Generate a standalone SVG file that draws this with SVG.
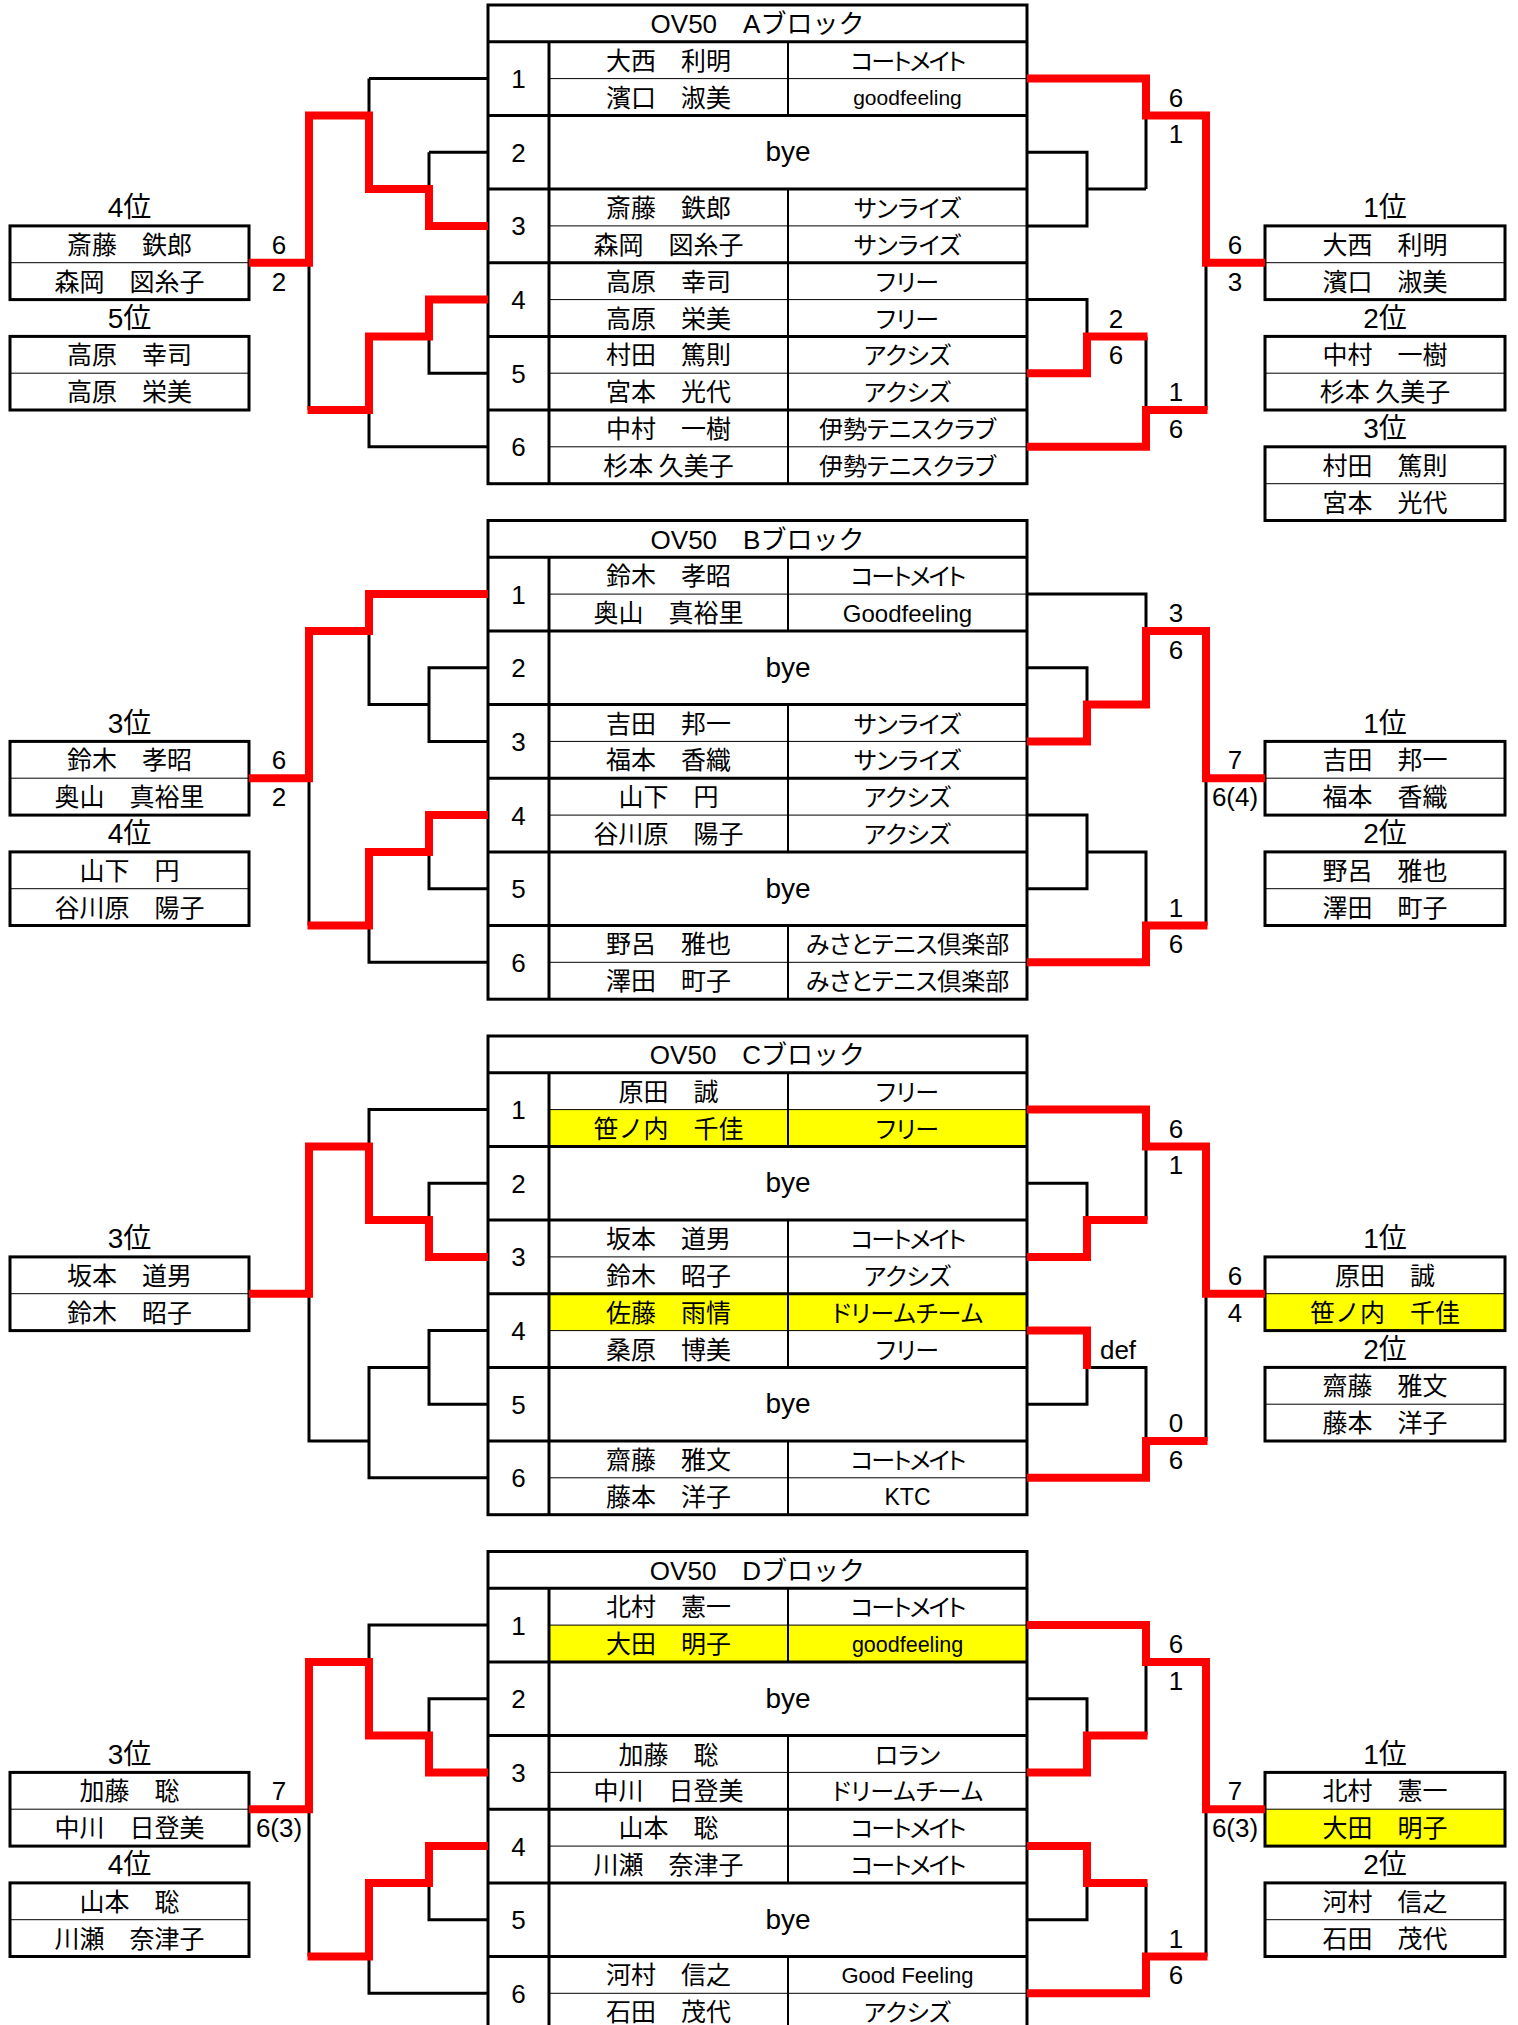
<svg xmlns="http://www.w3.org/2000/svg" width="1518" height="2025" viewBox="0 0 1518 2025">
<style>
.tb{fill:none;stroke:#000;stroke-width:3}
.md{fill:none;stroke:#000;stroke-width:2}
.th{fill:none;stroke:#000;stroke-width:1}
.bk{fill:none;stroke:#000;stroke-width:3}
.rd{fill:none;stroke:#f00;stroke-width:8;stroke-linejoin:miter}
.hl{fill:#ff0;stroke:none}
text{font-family:"Liberation Sans","Noto Sans CJK JP",sans-serif;text-anchor:middle;fill:#000}
.nm{font-family:"Noto Sans CJK JP",sans-serif;font-size:25px}
.cl{font-family:"Noto Sans CJK JP",sans-serif;font-size:24px;font-feature-settings:"palt"}
.ct{letter-spacing:-2px}
.nu{font-size:26px}
.by{font-size:28px}
.tt{font-size:26px}
.rk{font-size:28px}
</style>
<rect x="0" y="0" width="1518" height="2025" fill="#fff"/>

<!-- ===================== BLOCK A ===================== -->
<g id="block-A" transform="translate(0,5)">
<g id="A-table">
<rect class="tb" x="488" y="0" width="539" height="478.7"/>
<path class="th" d="M549,73.6H1027M549,220.9H1027M549,294.6H1027M549,368.2H1027M549,441.8H1027"/>
<path class="md" d="M788,36.8V110.5M788,184.1V478.7"/>
<path class="tb" d="M488,36.8H1027M549,36.8V478.7M488,110.5H1027M488,184.1H1027M488,257.7H1027M488,331.4H1027M488,405H1027"/>
<text class="tt" x="757.5" y="28">OV50　Aブロック</text>
<text class="nu" x="518.5" y="83.1">1</text>
<text class="nu" x="518.5" y="156.8">2</text>
<text class="nu" x="518.5" y="230.4">3</text>
<text class="nu" x="518.5" y="304.1">4</text>
<text class="nu" x="518.5" y="377.7">5</text>
<text class="nu" x="518.5" y="451.3">6</text>
<text class="nm" x="668.5" y="64.7">大西　利明</text>
<text class="cl ct" x="907.5" y="64.7">コートメイト</text>
<text class="nm" x="668.5" y="101.6">濱口　淑美</text>
<text x="907.5" y="100" font-size="21">goodfeeling</text>
<text class="by" x="788" y="156">bye</text>
<text class="nm" x="668.5" y="212">斎藤　鉄郎</text>
<text class="cl" x="907.5" y="212">サンライズ</text>
<text class="nm" x="668.5" y="248.8">森岡　図糸子</text>
<text class="cl" x="907.5" y="248.8">サンライズ</text>
<text class="nm" x="668.5" y="285.7">高原　幸司</text>
<text class="cl" x="907.5" y="285.7">フリー</text>
<text class="nm" x="668.5" y="322.5">高原　栄美</text>
<text class="cl" x="907.5" y="322.5">フリー</text>
<text class="nm" x="668.5" y="359.3">村田　篤則</text>
<text class="cl" x="907.5" y="359.3">アクシズ</text>
<text class="nm" x="668.5" y="396.1">宮本　光代</text>
<text class="cl" x="907.5" y="396.1">アクシズ</text>
<text class="nm" x="668.5" y="432.9">中村　一樹</text>
<text class="cl" x="907.5" y="432.9">伊勢テニスクラブ</text>
<text class="nm" x="668.5" y="469.8">杉本 久美子</text>
<text class="cl" x="907.5" y="469.8">伊勢テニスクラブ</text>
</g>
<g id="A-rank4">
<text class="rk" x="129.5" y="212">4位</text>
<rect class="tb" x="10" y="220.9" width="239" height="73.7"/>
<path class="th" d="M10,257.7H249"/>
<text class="nm" x="129.5" y="248.8">斎藤　鉄郎</text>
<text class="nm" x="129.5" y="285.7">森岡　図糸子</text>
</g>
<g id="A-rank5">
<text class="rk" x="129.5" y="322.5">5位</text>
<rect class="tb" x="10" y="331.4" width="239" height="73.6"/>
<path class="th" d="M10,368.2H249"/>
<text class="nm" x="129.5" y="359.3">高原　幸司</text>
<text class="nm" x="129.5" y="396.1">高原　栄美</text>
</g>
<g id="A-rank1">
<text class="rk" x="1385" y="212">1位</text>
<rect class="tb" x="1265" y="220.9" width="240" height="73.7"/>
<path class="th" d="M1265,257.7H1505"/>
<text class="nm" x="1385" y="248.8">大西　利明</text>
<text class="nm" x="1385" y="285.7">濱口　淑美</text>
</g>
<g id="A-rank2">
<text class="rk" x="1385" y="322.5">2位</text>
<rect class="tb" x="1265" y="331.4" width="240" height="73.6"/>
<path class="th" d="M1265,368.2H1505"/>
<text class="nm" x="1385" y="359.3">中村　一樹</text>
<text class="nm" x="1385" y="396.1">杉本 久美子</text>
</g>
<g id="A-rank3">
<text class="rk" x="1385" y="432.9">3位</text>
<rect class="tb" x="1265" y="441.8" width="240" height="73.7"/>
<path class="th" d="M1265,478.7H1505"/>
<text class="nm" x="1385" y="469.8">村田　篤則</text>
<text class="nm" x="1385" y="506.6">宮本　光代</text>
</g>
<g id="A-connectors">
<path class="bk" d="M369,73.6H488M369,73.6V110.5M429,147.3H488M429,147.3V184.1M309,257.7V405M429,331.4V368.2H488M369,405V441.8H488"/>
<path class="bk" d="M1027,147.3H1087V220.9H1027M1087,184.1H1146M1146,110.5V184.1M1027,294.6H1087V331.4M1146,331.4V405M1206,257.7V405"/>
<path class="rd" d="M488,220.9H429V184.1H369V110.5H309V257.7H249"/>
<path class="rd" d="M488,294.6H429V331.4H369V405H307.5"/>
<path class="rd" d="M1027,73.6H1146V110.5H1206V257.7H1265"/>
<path class="rd" d="M1027,368.2H1087V331.4H1147.5"/>
<path class="rd" d="M1027,441.8H1146V405H1207.5"/>
<text class="nu" x="279" y="248.8">6</text>
<text class="nu" x="279" y="285.7">2</text>
<text class="nu" x="1176" y="101.6">6</text>
<text class="nu" x="1176" y="138.4">1</text>
<text class="nu" x="1235" y="248.8">6</text>
<text class="nu" x="1235" y="285.7">3</text>
<text class="nu" x="1116" y="322.5">2</text>
<text class="nu" x="1116" y="359.3">6</text>
<text class="nu" x="1176" y="396.1">1</text>
<text class="nu" x="1176" y="432.9">6</text>
</g>
</g>

<!-- ===================== BLOCK B ===================== -->
<g id="block-B" transform="translate(0,520.5)">
<g id="B-table">
<rect class="tb" x="488" y="0" width="539" height="478.7"/>
<path class="th" d="M549,73.6H1027M549,220.9H1027M549,294.6H1027M549,441.8H1027"/>
<path class="md" d="M788,36.8V110.5M788,184.1V331.4M788,405V478.7"/>
<path class="tb" d="M488,36.8H1027M549,36.8V478.7M488,110.5H1027M488,184.1H1027M488,257.7H1027M488,331.4H1027M488,405H1027"/>
<text class="tt" x="757.5" y="28">OV50　Bブロック</text>
<text class="nu" x="518.5" y="83.1">1</text>
<text class="nu" x="518.5" y="156.8">2</text>
<text class="nu" x="518.5" y="230.4">3</text>
<text class="nu" x="518.5" y="304.1">4</text>
<text class="nu" x="518.5" y="377.7">5</text>
<text class="nu" x="518.5" y="451.3">6</text>
<text class="nm" x="668.5" y="64.7">鈴木　孝昭</text>
<text class="cl ct" x="907.5" y="64.7">コートメイト</text>
<text class="nm" x="668.5" y="101.6">奥山　真裕里</text>
<text x="907.5" y="101" font-size="24">Goodfeeling</text>
<text class="by" x="788" y="156">bye</text>
<text class="nm" x="668.5" y="212">吉田　邦一</text>
<text class="cl" x="907.5" y="212">サンライズ</text>
<text class="nm" x="668.5" y="248.8">福本　香織</text>
<text class="cl" x="907.5" y="248.8">サンライズ</text>
<text class="nm" x="668.5" y="285.7">山下　円</text>
<text class="cl" x="907.5" y="285.7">アクシズ</text>
<text class="nm" x="668.5" y="322.5">谷川原　陽子</text>
<text class="cl" x="907.5" y="322.5">アクシズ</text>
<text class="by" x="788" y="377">bye</text>
<text class="nm" x="668.5" y="432.9">野呂　雅也</text>
<text class="cl" x="907.5" y="432.9">みさとテニス倶楽部</text>
<text class="nm" x="668.5" y="469.8">澤田　町子</text>
<text class="cl" x="907.5" y="469.8">みさとテニス倶楽部</text>
</g>
<g id="B-rank3">
<text class="rk" x="129.5" y="212">3位</text>
<rect class="tb" x="10" y="220.9" width="239" height="73.7"/>
<path class="th" d="M10,257.7H249"/>
<text class="nm" x="129.5" y="248.8">鈴木　孝昭</text>
<text class="nm" x="129.5" y="285.7">奥山　真裕里</text>
</g>
<g id="B-rank4">
<text class="rk" x="129.5" y="322.5">4位</text>
<rect class="tb" x="10" y="331.4" width="239" height="73.6"/>
<path class="th" d="M10,368.2H249"/>
<text class="nm" x="129.5" y="359.3">山下　円</text>
<text class="nm" x="129.5" y="396.1">谷川原　陽子</text>
</g>
<g id="B-rank1">
<text class="rk" x="1385" y="212">1位</text>
<rect class="tb" x="1265" y="220.9" width="240" height="73.7"/>
<path class="th" d="M1265,257.7H1505"/>
<text class="nm" x="1385" y="248.8">吉田　邦一</text>
<text class="nm" x="1385" y="285.7">福本　香織</text>
</g>
<g id="B-rank2">
<text class="rk" x="1385" y="322.5">2位</text>
<rect class="tb" x="1265" y="331.4" width="240" height="73.6"/>
<path class="th" d="M1265,368.2H1505"/>
<text class="nm" x="1385" y="359.3">野呂　雅也</text>
<text class="nm" x="1385" y="396.1">澤田　町子</text>
</g>
<g id="B-connectors">
<path class="bk" d="M369,110.5V184.1H429M488,147.3H429V220.9H488M309,257.7V405M429,331.4V368.2H488M369,405V441.8H488"/>
<path class="bk" d="M1027,73.6H1146V110.5M1027,147.3H1087V184.1M1027,294.6H1087V368.2H1027M1087,331.4H1146V405M1206,257.7V405"/>
<path class="rd" d="M488,73.6H369V110.5H309V257.7H249"/>
<path class="rd" d="M488,294.6H429V331.4H369V405H307.5"/>
<path class="rd" d="M1027,220.9H1087V184.1H1146V110.5H1206V257.7H1265"/>
<path class="rd" d="M1027,441.8H1146V405H1207.5"/>
<text class="nu" x="279" y="248.8">6</text>
<text class="nu" x="279" y="285.7">2</text>
<text class="nu" x="1176" y="101.6">3</text>
<text class="nu" x="1176" y="138.4">6</text>
<text class="nu" x="1235" y="248.8">7</text>
<text class="nu" x="1235" y="285.7">6(4)</text>
<text class="nu" x="1176" y="396.1">1</text>
<text class="nu" x="1176" y="432.9">6</text>
</g>
</g>

<!-- ===================== BLOCK C ===================== -->
<g id="block-C" transform="translate(0,1036)">
<g id="C-table">
<rect class="hl" x="549" y="73.6" width="478" height="36.9"/>
<rect class="hl" x="549" y="257.7" width="478" height="36.9"/>
<rect class="tb" x="488" y="0" width="539" height="478.7"/>
<path class="th" d="M549,73.6H1027M549,220.9H1027M549,294.6H1027M549,441.8H1027"/>
<path class="md" d="M788,36.8V110.5M788,184.1V331.4M788,405V478.7"/>
<path class="tb" d="M488,36.8H1027M549,36.8V478.7M488,110.5H1027M488,184.1H1027M488,257.7H1027M488,331.4H1027M488,405H1027"/>
<text class="tt" x="757.5" y="28">OV50　Cブロック</text>
<text class="nu" x="518.5" y="83.1">1</text>
<text class="nu" x="518.5" y="156.8">2</text>
<text class="nu" x="518.5" y="230.4">3</text>
<text class="nu" x="518.5" y="304.1">4</text>
<text class="nu" x="518.5" y="377.7">5</text>
<text class="nu" x="518.5" y="451.3">6</text>
<text class="nm" x="668.5" y="64.7">原田　誠</text>
<text class="cl" x="907.5" y="64.7">フリー</text>
<text class="nm" x="668.5" y="101.6">笹ノ内　千佳</text>
<text class="cl" x="907.5" y="101.6">フリー</text>
<text class="by" x="788" y="156">bye</text>
<text class="nm" x="668.5" y="212">坂本　道男</text>
<text class="cl ct" x="907.5" y="212">コートメイト</text>
<text class="nm" x="668.5" y="248.8">鈴木　昭子</text>
<text class="cl" x="907.5" y="248.8">アクシズ</text>
<text class="nm" x="668.5" y="285.7">佐藤　雨情</text>
<text class="cl" x="907.5" y="285.7">ドリームチーム</text>
<text class="nm" x="668.5" y="322.5">桑原　博美</text>
<text class="cl" x="907.5" y="322.5">フリー</text>
<text class="by" x="788" y="377">bye</text>
<text class="nm" x="668.5" y="432.9">齋藤　雅文</text>
<text class="cl ct" x="907.5" y="432.9">コートメイト</text>
<text class="nm" x="668.5" y="469.8">藤本　洋子</text>
<text x="907.5" y="469" font-size="23">KTC</text>
</g>
<g id="C-rank3">
<text class="rk" x="129.5" y="212">3位</text>
<rect class="tb" x="10" y="220.9" width="239" height="73.7"/>
<path class="th" d="M10,257.7H249"/>
<text class="nm" x="129.5" y="248.8">坂本　道男</text>
<text class="nm" x="129.5" y="285.7">鈴木　昭子</text>
</g>
<g id="C-rank1">
<text class="rk" x="1385" y="212">1位</text>
<rect class="hl" x="1265" y="257.7" width="240" height="36.9"/>
<rect class="tb" x="1265" y="220.9" width="240" height="73.7"/>
<path class="th" d="M1265,257.7H1505"/>
<text class="nm" x="1385" y="248.8">原田　誠</text>
<text class="nm" x="1385" y="285.7">笹ノ内　千佳</text>
</g>
<g id="C-rank2">
<text class="rk" x="1385" y="322.5">2位</text>
<rect class="tb" x="1265" y="331.4" width="240" height="73.6"/>
<path class="th" d="M1265,368.2H1505"/>
<text class="nm" x="1385" y="359.3">齋藤　雅文</text>
<text class="nm" x="1385" y="396.1">藤本　洋子</text>
</g>
<g id="C-connectors">
<path class="bk" d="M488,73.6H369V110.5M488,147.3H429V184.1M488,294.6H429V368.2H488M429,331.4H369V441.8H488M369,405H309V257.7"/>
<path class="bk" d="M1146,110.5V184.1M1027,147.3H1087V184.1M1087,331.4H1146V405M1087,331.4V368.2H1027M1206,257.7V405"/>
<path class="rd" d="M488,220.9H429V184.1H369V110.5H309V257.7H249"/>
<path class="rd" d="M1027,73.6H1146V110.5H1206V257.7H1265"/>
<path class="rd" d="M1027,220.9H1087V184.1H1147.5"/>
<path class="rd" d="M1027,294.6H1087V333"/>
<path class="rd" d="M1027,441.8H1146V405H1207.5"/>
<text class="nu" x="1176" y="101.6">6</text>
<text class="nu" x="1176" y="138.4">1</text>
<text class="nu" x="1235" y="248.8">6</text>
<text class="nu" x="1235" y="285.7">4</text>
<text class="nu" x="1118" y="322.5">def</text>
<text class="nu" x="1176" y="396.1">0</text>
<text class="nu" x="1176" y="432.9">6</text>
</g>
</g>

<!-- ===================== BLOCK D ===================== -->
<g id="block-D" transform="translate(0,1551.5)">
<g id="D-table">
<rect class="hl" x="549" y="73.6" width="478" height="36.9"/>
<rect class="tb" x="488" y="0" width="539" height="478.7"/>
<path class="th" d="M549,73.6H1027M549,220.9H1027M549,294.6H1027M549,441.8H1027"/>
<path class="md" d="M788,36.8V110.5M788,184.1V331.4M788,405V478.7"/>
<path class="tb" d="M488,36.8H1027M549,36.8V478.7M488,110.5H1027M488,184.1H1027M488,257.7H1027M488,331.4H1027M488,405H1027"/>
<text class="tt" x="757.5" y="28">OV50　Dブロック</text>
<text class="nu" x="518.5" y="83.1">1</text>
<text class="nu" x="518.5" y="156.8">2</text>
<text class="nu" x="518.5" y="230.4">3</text>
<text class="nu" x="518.5" y="304.1">4</text>
<text class="nu" x="518.5" y="377.7">5</text>
<text class="nu" x="518.5" y="451.3">6</text>
<text class="nm" x="668.5" y="64.7">北村　憲一</text>
<text class="cl ct" x="907.5" y="64.7">コートメイト</text>
<text class="nm" x="668.5" y="101.6">大田　明子</text>
<text x="907.5" y="100" font-size="21.5">goodfeeling</text>
<text class="by" x="788" y="156">bye</text>
<text class="nm" x="668.5" y="212">加藤　聡</text>
<text class="cl" x="907.5" y="212">ロラン</text>
<text class="nm" x="668.5" y="248.8">中川　日登美</text>
<text class="cl" x="907.5" y="248.8">ドリームチーム</text>
<text class="nm" x="668.5" y="285.7">山本　聡</text>
<text class="cl ct" x="907.5" y="285.7">コートメイト</text>
<text class="nm" x="668.5" y="322.5">川瀬　奈津子</text>
<text class="cl ct" x="907.5" y="322.5">コートメイト</text>
<text class="by" x="788" y="377">bye</text>
<text class="nm" x="668.5" y="432.9">河村　信之</text>
<text x="907.5" y="431.5" font-size="22">Good Feeling</text>
<text class="nm" x="668.5" y="469.8">石田　茂代</text>
<text class="cl" x="907.5" y="469.8">アクシズ</text>
</g>
<g id="D-rank3">
<text class="rk" x="129.5" y="212">3位</text>
<rect class="tb" x="10" y="220.9" width="239" height="73.7"/>
<path class="th" d="M10,257.7H249"/>
<text class="nm" x="129.5" y="248.8">加藤　聡</text>
<text class="nm" x="129.5" y="285.7">中川　日登美</text>
</g>
<g id="D-rank4">
<text class="rk" x="129.5" y="322.5">4位</text>
<rect class="tb" x="10" y="331.4" width="239" height="73.6"/>
<path class="th" d="M10,368.2H249"/>
<text class="nm" x="129.5" y="359.3">山本　聡</text>
<text class="nm" x="129.5" y="396.1">川瀬　奈津子</text>
</g>
<g id="D-rank1">
<text class="rk" x="1385" y="212">1位</text>
<rect class="hl" x="1265" y="257.7" width="240" height="36.9"/>
<rect class="tb" x="1265" y="220.9" width="240" height="73.7"/>
<path class="th" d="M1265,257.7H1505"/>
<text class="nm" x="1385" y="248.8">北村　憲一</text>
<text class="nm" x="1385" y="285.7">大田　明子</text>
</g>
<g id="D-rank2">
<text class="rk" x="1385" y="322.5">2位</text>
<rect class="tb" x="1265" y="331.4" width="240" height="73.6"/>
<path class="th" d="M1265,368.2H1505"/>
<text class="nm" x="1385" y="359.3">河村　信之</text>
<text class="nm" x="1385" y="396.1">石田　茂代</text>
</g>
<g id="D-connectors">
<path class="bk" d="M488,73.6H369V110.5M488,147.3H429V184.1M309,257.7V405M429,331.4V368.2H488M369,405V441.8H488"/>
<path class="bk" d="M1146,110.5V184.1M1027,147.3H1087V184.1M1087,331.4V368.2H1027M1146,331.4V405M1206,257.7V405"/>
<path class="rd" d="M488,220.9H429V184.1H369V110.5H309V257.7H249"/>
<path class="rd" d="M488,294.6H429V331.4H369V405H307.5"/>
<path class="rd" d="M1027,73.6H1146V110.5H1206V257.7H1265"/>
<path class="rd" d="M1027,220.9H1087V184.1H1147.5"/>
<path class="rd" d="M1027,294.6H1087V331.4H1147.5"/>
<path class="rd" d="M1027,441.8H1146V405H1207.5"/>
<text class="nu" x="279" y="248.8">7</text>
<text class="nu" x="279" y="285.7">6(3)</text>
<text class="nu" x="1176" y="101.6">6</text>
<text class="nu" x="1176" y="138.4">1</text>
<text class="nu" x="1235" y="248.8">7</text>
<text class="nu" x="1235" y="285.7">6(3)</text>
<text class="nu" x="1176" y="396.1">1</text>
<text class="nu" x="1176" y="432.9">6</text>
</g>
</g>
</svg>
